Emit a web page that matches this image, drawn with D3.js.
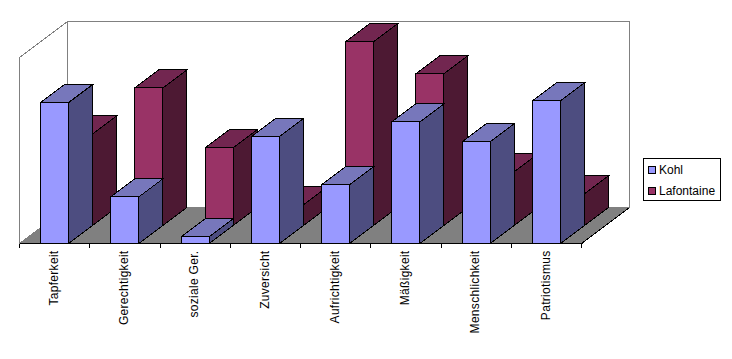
<!DOCTYPE html>
<html><head><meta charset="utf-8">
<script src="https://d3js.org/d3.v7.min.js"></script>
<style>
html,body{margin:0;padding:0;background:#fff;overflow:hidden}
svg{display:block}
text{font-family:"Liberation Sans",Arial,sans-serif;font-size:12px;fill:#000}
.tick text{letter-spacing:0.3px}
</style></head><body>
<svg id="c" width="732" height="359"></svg>
<script>
const categories = ["Tapferkeit","Gerechtigkeit","soziale Ger.","Zuversicht","Aufrichtigkeit","Mäßigkeit","Menschlichkeit","Patriotismus"];
const seriesNames = ["Kohl","Lafontaine"];
const kohl = [75.8,25.1,3.6,57.5,31.6,65.4,54.7,76.7];
const lafontaine = [49.2,74.0,41.8,11.1,98.8,81.6,28.9,17.0];
const faceColors = ["#9999ff","#993366"];
const topColors = ["#7777bb","#722650"];
const sideColors = ["#4d4d80","#4d1933"];

const svg = d3.select("#c");
const x = d3.scaleBand().domain(categories).range([19.5,581.5]).paddingInner(0).paddingOuter(0);
const barW = x.bandwidth()*0.4, barOff = x.bandwidth()*0.3;
const y = d3.scaleLinear().domain([0,100]).range([243.5,57.5]);
const dx = d3.scaleLinear().domain([0,1]).range([0,48]);
const dy = d3.scaleLinear().domain([0,1]).range([0,-36]);
const P = (px,py,d)=>[px+dx(d),py+dy(d)];
const poly = pts => pts.map(p=>p.join(",")).join(" ");

const gridCol="#808080";
const x0=x.range()[0], x1=x.range()[1], yb=y(0), yt=y(100);
svg.append("polygon").attr("points",poly([P(x0,yb,0),P(x0,yb,1),P(x0,yt,1),P(x0,yt,0)]))
  .attr("fill","#fff").attr("stroke",gridCol).attr("shape-rendering","crispEdges");
svg.append("polygon").attr("points",poly([P(x0,yb,1),P(x1,yb,1),P(x1,yt,1),P(x0,yt,1)]))
  .attr("fill","#fff").attr("stroke",gridCol).attr("shape-rendering","crispEdges");
svg.append("polygon").attr("points",poly([P(x0,yb,0),P(x1,yb,0),P(x1,yb,1),P(x0,yb,1)]))
  .attr("fill",gridCol).attr("stroke",gridCol).attr("shape-rendering","crispEdges");
// black right edge of the floor
svg.append("line").attr("x1",P(x1,yb,0)[0]).attr("y1",P(x1,yb,0)[1]).attr("x2",P(x1,yb,1)[0]).attr("y2",P(x1,yb,1)[1])
  .attr("stroke","#000").attr("shape-rendering","crispEdges");

const rows = [{s:1,vals:lafontaine},{s:0,vals:kohl}];
const gBars = svg.append("g").attr("stroke","#000").attr("stroke-width",1).attr("stroke-linejoin","miter");
rows.forEach(r=>{
  const d0 = r.s===0?0:0.5, d1 = d0+0.5;
  r.vals.forEach((v,i)=>{
    const l = x(categories[i])+barOff, rr = l+barW, t = y(v), b = y(0);
    const g = gBars.append("g").attr("shape-rendering","crispEdges");
    g.append("polygon").attr("fill",topColors[r.s]).attr("points",poly([P(l,t,d0),P(rr,t,d0),P(rr,t,d1),P(l,t,d1)]));
    g.append("polygon").attr("fill",sideColors[r.s]).attr("points",poly([P(rr,b,d0),P(rr,b,d1),P(rr,t,d1),P(rr,t,d0)]));
    g.append("polygon").attr("fill",faceColors[r.s]).attr("points",poly([P(l,b,d0),P(rr,b,d0),P(rr,t,d0),P(l,t,d0)]));
  });
});

const axis = d3.axisBottom(x).tickSize(0).tickPadding(0);
const ga = svg.append("g").attr("transform",`translate(0,${yb})`).call(axis);
ga.select(".domain").remove();
ga.selectAll("text").attr("font-size",null).attr("font-family",null)
  .attr("transform","translate(-1,7) rotate(-90)").attr("text-anchor","end").attr("dy","0.35em").attr("x",0).attr("y",0);
svg.append("line").attr("x1",x0).attr("x2",x1+1).attr("y1",yb).attr("y2",yb).attr("stroke","#000").attr("shape-rendering","crispEdges");
const edges = categories.map(c=>x(c)).concat([x1]);
svg.append("g").selectAll("line").data(edges).join("line")
  .attr("x1",d=>d).attr("x2",d=>d).attr("y1",yb).attr("y2",yb+4).attr("stroke","#000").attr("shape-rendering","crispEdges");

const lg = svg.append("g");
lg.append("rect").attr("x",643.5).attr("y",158.5).attr("width",77).attr("height",42).attr("fill","#fff").attr("stroke","#000").attr("shape-rendering","crispEdges");
const ly = d3.scalePoint().domain(seriesNames).range([169.5,190.5]);
seriesNames.forEach((n,i)=>{
  lg.append("rect").attr("x",648.5).attr("y",ly(n)-3).attr("width",7).attr("height",7).attr("fill",faceColors[i]).attr("stroke","#000").attr("shape-rendering","crispEdges");
  lg.append("text").attr("x",659).attr("y",ly(n)+4.5).text(n);
});
</script>
</body></html>
